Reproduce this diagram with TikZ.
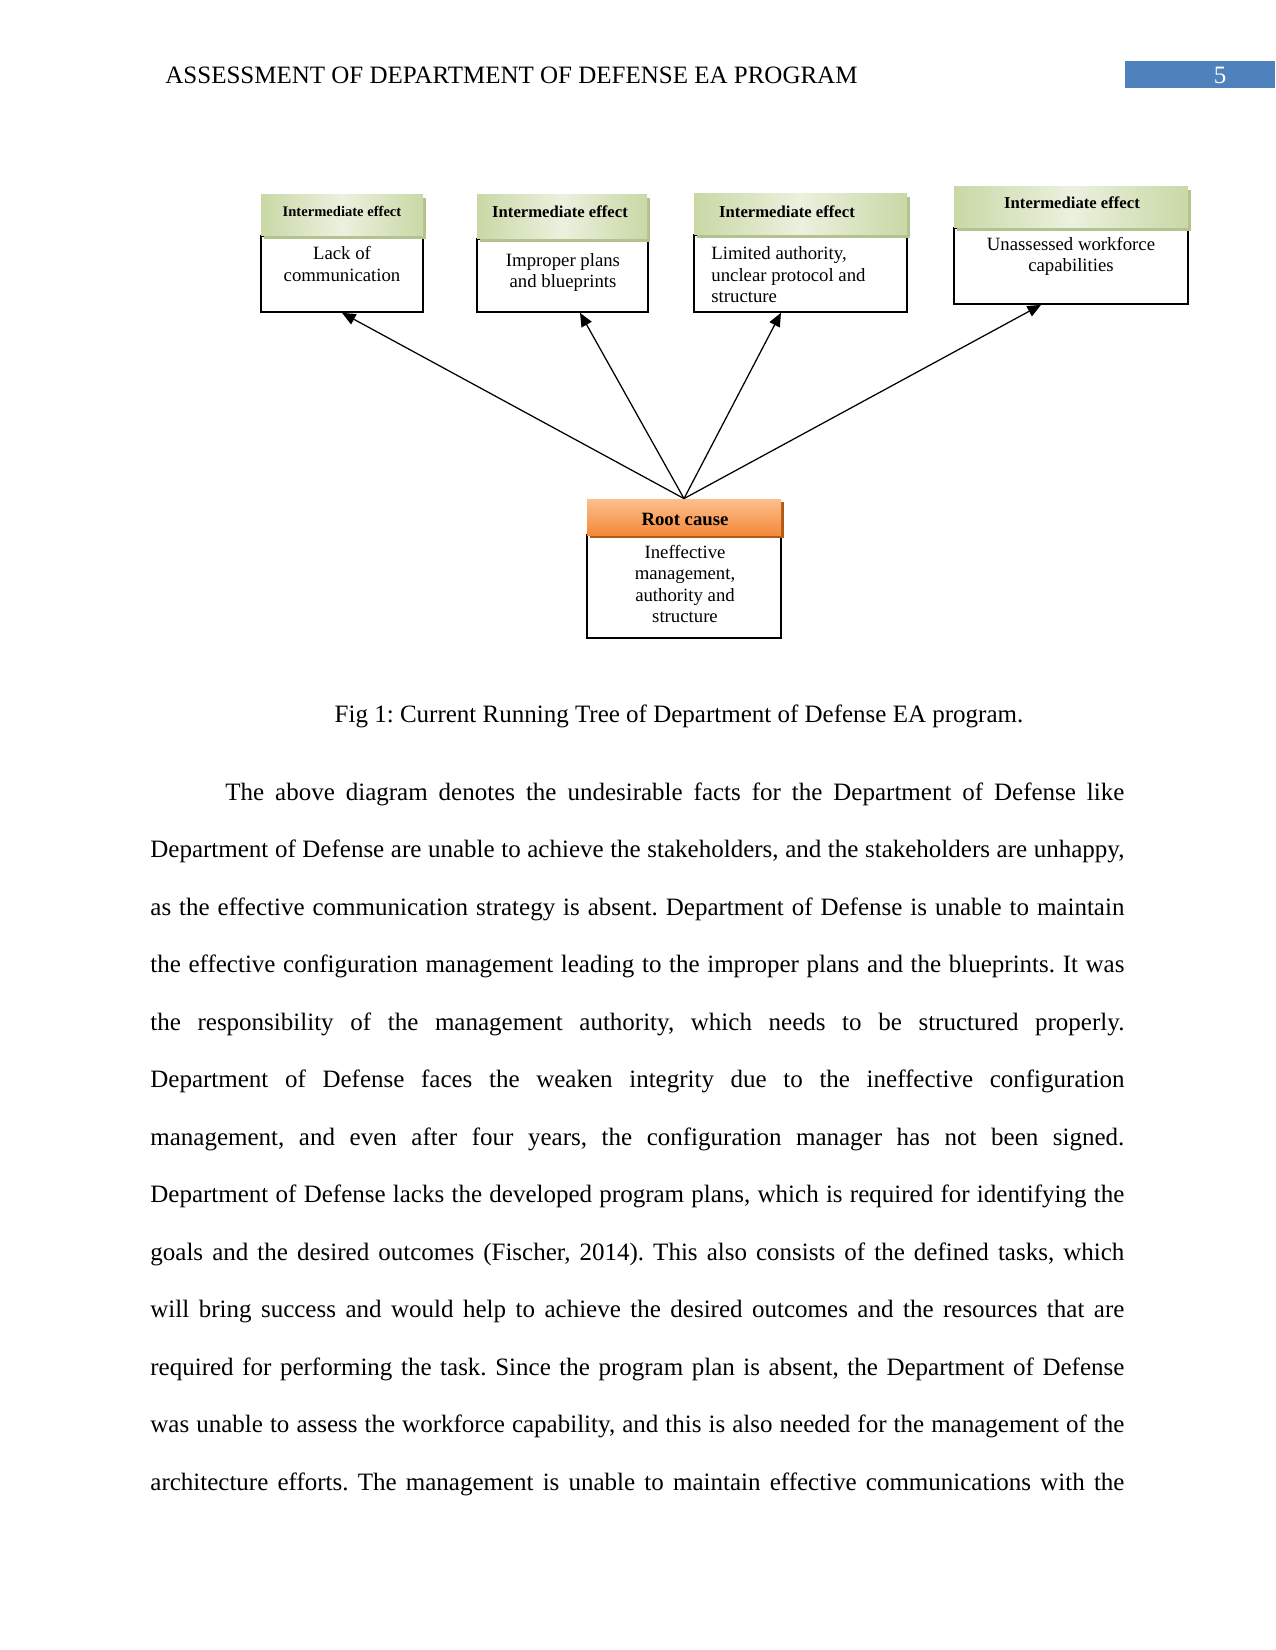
\documentclass[tikz,border=0pt]{standalone}
\usepackage{fontspec}
\setmainfont{Liberation Serif}
\usetikzlibrary{arrows.meta,shadows}
\frenchspacing
\definecolor{grnE}{HTML}{C9D8A6}
\definecolor{grnM}{HTML}{EBF1DE}
\definecolor{grnS}{HTML}{B3C28E}
\definecolor{orT}{HTML}{FBC08E}
\definecolor{orB}{HTML}{F4893A}
\definecolor{orS}{HTML}{B35A12}
\definecolor{pgblue}{HTML}{4F81BD}
\tikzset{
  bodybox/.style={draw=black, line width=0.8pt, fill=white, inner sep=0pt},
  ghead/.style={inner sep=0pt, left color=grnE, right color=grnE, middle color=grnM,
    general shadow={fill=grnS, shadow xshift=1.5pt, shadow yshift=-1.5pt}},
  ohead/.style={inner sep=0pt, top color=orT, bottom color=orB,
    general shadow={fill=orS, shadow xshift=1.5pt, shadow yshift=-1.5pt}},
  boxtext/.style={inner sep=0pt, align=center, font=\fontsize{9}{10.3}\selectfont},
  headtext/.style={inner sep=0pt, anchor=base, font=\bfseries\fontsize{8}{9}\selectfont},
  conn/.style={line width=0.6pt, -{Triangle[length=6.5pt,width=5.5pt]}},
  bodyline/.style={anchor=base west, inner sep=0pt, font=\fontsize{12}{14}\selectfont},
}
\begin{document}
\begin{tikzpicture}[x=0.48pt,y=-0.48pt]
\useasboundingbox (0,0) rectangle (1275,1650);
\fill[white] (0,0) rectangle (1275,1650);

% page header
\node[bodyline] (hdr) at (165,84) {ASSESSMENT OF DEPARTMENT OF DEFENSE EA PROGRAM};
\node[fill=pgblue, inner sep=0pt, minimum width=72pt, minimum height=12.96pt] (pgbox) at (1200,75) {};
\node[bodyline, anchor=base, text=white] (pgnum) at (1220,84) {5};

% boxes: bodies
\node[bodybox, minimum width=77.76pt, minimum height=36.48pt] (b1) at (342,274) {};
\node[bodybox, minimum width=82.08pt, minimum height=35.04pt] (b2) at (562.5,275.5) {};
\node[bodybox, minimum width=102.24pt, minimum height=36.96pt] (b3) at (800.5,273.5) {};
\node[bodybox, minimum width=112.32pt, minimum height=36.48pt] (b4) at (1071,266) {};
\node[bodybox, minimum width=93.12pt, minimum height=49.44pt] (rb) at (684,586.5) {};

% headers
\node[ghead, minimum width=77.76pt, minimum height=19.68pt] (h1) at (342,215.5) {};
\node[ghead, minimum width=81.6pt, minimum height=21.12pt] (h2) at (562,217) {};
\node[ghead, minimum width=102.24pt, minimum height=19.68pt] (h3) at (800.5,214.5) {};
\node[ghead, minimum width=112.32pt, minimum height=19.68pt] (h4) at (1071,207.5) {};
\node[ohead, minimum width=93.12pt, minimum height=17.28pt] (rh) at (684,517) {};

% header texts
\node[headtext, font=\bfseries\fontsize{7}{8}\selectfont] (t1) at (342,217) {Intermediate effect};
\node[headtext] (t2) at (560,218) {Intermediate effect};
\node[headtext] (t3) at (787,218) {Intermediate effect};
\node[headtext] (t4) at (1072,209) {Intermediate effect};
\node[headtext, font=\bfseries\fontsize{9}{10}\selectfont] (tr) at (685,525) {Root cause};

% body texts
\node[boxtext] (x1) at (342,264) {Lack of\\communication};
\node[boxtext] (x2) at (563,272.5) {Improper plans\\and blueprints};
\node[boxtext, align=left, anchor=west] (x3) at (711,275) {Limited authority,\\unclear protocol and\\structure};
\node[boxtext] (x4) at (1071,256.5) {Unassessed workforce\\capabilities};
\node[boxtext] (xr) at (685,584) {Ineffective\\management,\\authority and\\structure};

% connectors
\draw[conn] (rh.north) -- (b1.south);
\draw[conn] (rh.north) -- ([xshift=8.4pt]b2.south);
\draw[conn] (rh.north) -- ([xshift=-9.4pt]b3.south);
\draw[conn] (rh.north) -- ([xshift=-14.4pt]b4.south);

% caption
\node[bodyline, anchor=base] (cap) at (679,722) {Fig 1: Current Running Tree of Department of Defense EA program.};

% body text
\node[bodyline] (l1) at (225,800) {\makebox[431.5pt][s]{The above diagram denotes the undesirable facts for the Department of Defense like}};
\node[bodyline] (l2) at (150,857.5) {\makebox[467.5pt][s]{Department of Defense are unable to achieve the stakeholders, and the stakeholders are unhappy,}};
\node[bodyline] (l3) at (150,915) {\makebox[467.5pt][s]{as the effective communication strategy is absent. Department of Defense is unable to maintain}};
\node[bodyline] (l4) at (150,972.5) {\makebox[467.5pt][s]{the effective configuration management leading to the improper plans and the blueprints. It was}};
\node[bodyline] (l5) at (150,1030) {\makebox[467.5pt][s]{the responsibility of the management authority, which needs to be structured properly.}};
\node[bodyline] (l6) at (150,1087.5) {\makebox[467.5pt][s]{Department of Defense faces the weaken integrity due to the ineffective configuration}};
\node[bodyline] (l7) at (150,1145) {\makebox[467.5pt][s]{management, and even after four years, the configuration manager has not been signed.}};
\node[bodyline] (l8) at (150,1202.5) {\makebox[467.5pt][s]{Department of Defense lacks the developed program plans, which is required for identifying the}};
\node[bodyline] (l9) at (150,1260) {\makebox[467.5pt][s]{goals and the desired outcomes (Fischer, 2014). This also consists of the defined tasks, which}};
\node[bodyline] (l10) at (150,1317.5) {\makebox[467.5pt][s]{will bring success and would help to achieve the desired outcomes and the resources that are}};
\node[bodyline] (l11) at (150,1375) {\makebox[467.5pt][s]{required for performing the task. Since the program plan is absent, the Department of Defense}};
\node[bodyline] (l12) at (150,1432.5) {\makebox[467.5pt][s]{was unable to assess the workforce capability, and this is also needed for the management of the}};
\node[bodyline] (l13) at (150,1490) {\makebox[467.5pt][s]{architecture efforts. The management is unable to maintain effective communications with the}};
\end{tikzpicture}
\end{document}
